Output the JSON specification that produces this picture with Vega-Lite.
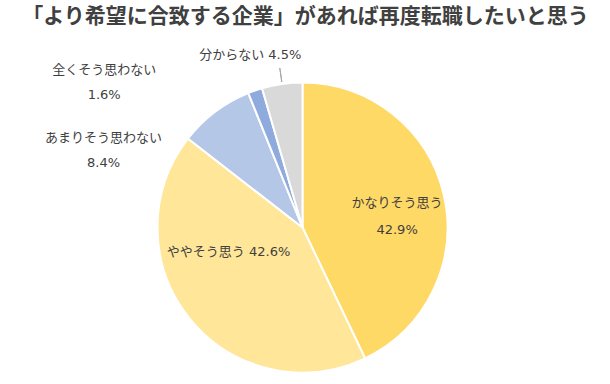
{
  "$schema": "https://vega.github.io/schema/vega-lite/v6.json",
  "width": 605,
  "height": 313,
  "autosize": {"type": "none"},
  "padding": {"top": 71, "left": 0, "right": 5, "bottom": 0},
  "background": "white",
  "title": {
    "text": "「より希望に合致する企業」があれば再度転職したいと思う",
    "font": "Noto Sans CJK JP",
    "fontSize": 21,
    "fontWeight": "bold",
    "color": "#404040",
    "anchor": "middle",
    "frame": "group",
    "baseline": "middle",
    "offset": 11,
    "dx": 3
  },
  "view": {"stroke": null},
  "data": {
    "values": [
      {"idx": 1, "answer": "かなりそう思う", "pct": 42.9},
      {"idx": 2, "answer": "ややそう思う", "pct": 42.6},
      {"idx": 3, "answer": "あまりそう思わない", "pct": 8.4},
      {"idx": 4, "answer": "全くそう思わない", "pct": 1.6},
      {"idx": 5, "answer": "分からない", "pct": 4.5}
    ]
  },
  "encoding": {
    "theta": {"field": "pct", "type": "quantitative", "stack": true},
    "order": {"field": "idx", "type": "quantitative"}
  },
  "layer": [
    {
      "mark": {"type": "arc", "outerRadius": 145, "stroke": "white", "strokeWidth": 2},
      "encoding": {
        "color": {
          "field": "answer",
          "type": "nominal",
          "scale": {
            "domain": ["かなりそう思う", "ややそう思う", "あまりそう思わない", "全くそう思わない", "分からない"],
            "range": ["#FFD966", "#FFE699", "#B4C7E7", "#8FAADC", "#D9D9D9"]
          },
          "legend": null
        }
      }
    },
    {
      "mark": {"type": "arc", "innerRadius": 147, "outerRadius": 161, "padAngle": 3.1, "fill": null, "stroke": "#a6a6a6", "strokeWidth": 1},
      "encoding": {
        "strokeOpacity": {"condition": {"test": "datum.answer === '分からない'", "value": 1}, "value": 0}
      }
    },
    {
      "mark": {"type": "text", "radius": 97, "dy": -3, "lineBreak": "\n", "lineHeight": 27, "font": "DejaVu Sans, Noto Sans CJK JP", "fontSize": 13, "color": "#404040", "align": "center", "baseline": "middle"},
      "encoding": {
        "text": {"condition": {"test": "datum.answer === 'かなりそう思う'", "value": "かなりそう思う\n42.9%"}, "value": ""}
      }
    },
    {
      "mark": {"type": "text", "radius": 95, "dy": -35, "font": "DejaVu Sans, Noto Sans CJK JP", "fontSize": 13, "color": "#404040", "align": "center", "baseline": "middle"},
      "encoding": {
        "text": {"condition": {"test": "datum.answer === 'ややそう思う'", "value": "ややそう思う 42.6%"}, "value": ""}
      }
    },
    {
      "mark": {"type": "text", "radius": 165, "dx": -99.5, "dy": 42, "lineBreak": "\n", "lineHeight": 25, "font": "DejaVu Sans, Noto Sans CJK JP", "fontSize": 13, "color": "#404040", "align": "center", "baseline": "middle"},
      "encoding": {
        "text": {"condition": {"test": "datum.answer === 'あまりそう思わない'", "value": "あまりそう思わない\n8.4%"}, "value": ""}
      }
    },
    {
      "mark": {"type": "text", "radius": 160, "dx": -146, "dy": -6, "lineBreak": "\n", "lineHeight": 25, "font": "DejaVu Sans, Noto Sans CJK JP", "fontSize": 13, "color": "#404040", "align": "center", "baseline": "middle"},
      "encoding": {
        "text": {"condition": {"test": "datum.answer === '全くそう思わない'", "value": "全くそう思わない\n1.6%"}, "value": ""}
      }
    },
    {
      "mark": {"type": "text", "radius": 172, "dx": -28, "dy": -2, "font": "DejaVu Sans, Noto Sans CJK JP", "fontSize": 13, "color": "#404040", "align": "center", "baseline": "middle"},
      "encoding": {
        "text": {"condition": {"test": "datum.answer === '分からない'", "value": "分からない 4.5%"}, "value": ""}
      }
    }
  ]
}
